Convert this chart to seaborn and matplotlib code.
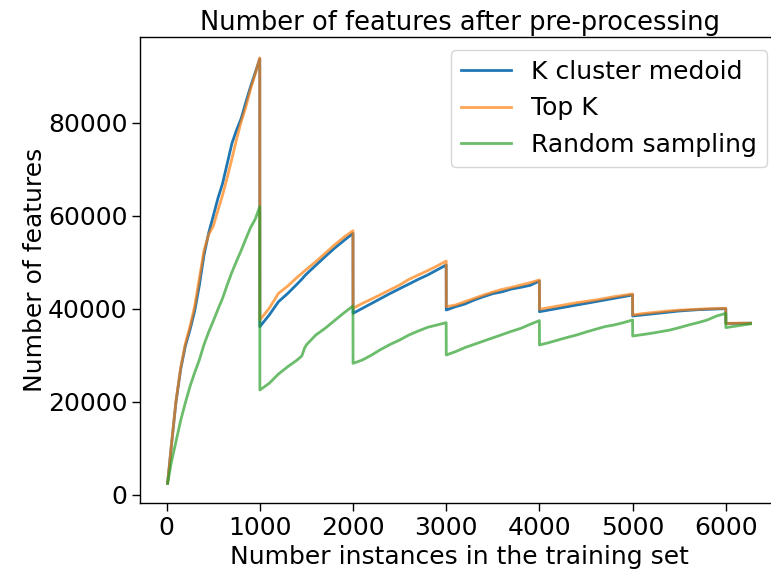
import numpy as np
import pandas as pd
import matplotlib
matplotlib.use("Agg")
import matplotlib.pyplot as plt
import seaborn as sns

# ---- data ----
instances = [10, 50, 100, 150, 200, 250, 300, 350, 400, 450, 500, 550, 600, 650, 700, 750, 800, 850, 900, 950, 999,
             1000, 1100, 1200, 1300, 1400, 1450, 1480, 1500, 1600, 1700, 1800, 1900, 1999,
             2000, 2100, 2200, 2300, 2400, 2500, 2600, 2700, 2800, 2900, 2999,
             3000, 3100, 3200, 3300, 3400, 3500, 3600, 3700, 3800, 3900, 3999,
             4000, 4100, 4200, 4300, 4400, 4500, 4600, 4700, 4800, 4900, 4999,
             5000, 5100, 5200, 5300, 5400, 5500, 5600, 5700, 5800, 5900, 5999,
             6000, 6100, 6265]

k_cluster_medoid = [2500, 10500, 20000, 27000, 32000, 35500, 39500, 45000, 51500, 56300, 60000, 63800, 67000, 71300, 75600, 78500, 81000, 84500, 87800, 90800, 93800,
                    36200, 38700, 41570, 43360, 45370, 46400, 47100, 47520, 49390, 51250, 53050, 54690, 56270,
                    39070, 40140, 41210, 42290, 43360, 44370, 45370, 46380, 47310, 48390, 49460,
                    39780, 40500, 41070, 41930, 42650, 43300, 43700, 44300, 44660, 45090, 46000,
                    39420, 39780, 40140, 40500, 40860, 41210, 41570, 41930, 42290, 42650, 43010,
                    38490, 38710, 38920, 39140, 39350, 39570, 39710, 39850, 39920, 40000, 40070,
                    36900, 36900, 36950]

top_k = [2500, 10500, 20200, 27300, 32500, 36200, 40500, 46500, 52500, 56000, 57800, 61200, 64500, 68300, 72300, 76500, 80300, 83500, 87300, 90500, 94000,
         37630, 40140, 43370, 44950, 46810, 47650, 48200, 48530, 50180, 51970, 53760, 55410, 56840,
         40140, 41210, 42150, 43150, 44160, 45160, 46380, 47310, 48240, 49240, 50300,
         40500, 40860, 41570, 42290, 43000, 43650, 44220, 44650, 45160, 45660, 46240,
         39930, 40290, 40640, 41000, 41360, 41640, 41930, 42290, 42650, 42940, 43230,
         38710, 39000, 39200, 39400, 39600, 39750, 39850, 39950, 40050, 40100, 40150,
         36900, 36950, 36950]

random_sampling = [2500, 7000, 11500, 16000, 19800, 23300, 26300, 29000, 32300, 35000, 37400, 39900, 42300, 45200, 47900, 50300, 52600, 55100, 57500, 59300, 62000,
                   22580, 24010, 26020, 27600, 29030, 29900, 31600, 32300, 34400, 35840, 37490, 39130, 40640,
                   28310, 29030, 30110, 31330, 32400, 33330, 34410, 35270, 36060, 36560, 37060,
                   30110, 30830, 31700, 32400, 33100, 33800, 34500, 35200, 35840, 36700, 37500,
                   32260, 32760, 33330, 33900, 34410, 35050, 35630, 36200, 36560, 37060, 37630,
                   34190, 34480, 34770, 35120, 35480, 35990, 36560, 37060, 37630, 38490, 39060,
                   36000, 36300, 36800]

series_names = ["K cluster medoid", "Top K", "Random sampling"]
series_values = [k_cluster_medoid, top_k, random_sampling]
series_colors = ["#1f77b4", "#ff7f0e", "#2ca02c"]
series_alpha = [1.0, 0.7, 0.7]

W, H, DPI = 771, 576, 100
fig = plt.figure(figsize=(W / DPI, H / DPI), dpi=DPI)
ax = fig.add_axes([140 / W, (H - 503.3) / H, (779 - 140) / W, (503.3 - 37.3) / H])

for name, vals, col, a in zip(series_names, series_values, series_colors, series_alpha):
    df = pd.DataFrame({"x": instances, "y": vals})
    sns.lineplot(data=df, x="x", y="y", ax=ax, color=col, alpha=a, lw=2.0,
                 label=name, estimator=None, sort=False)

ax.set_xlim(-286, 6570)
ax.set_ylim(-1790, 98430)
ax.set_xticks([0, 1000, 2000, 3000, 4000, 5000, 6000])
ax.set_yticks([0, 20000, 40000, 60000, 80000])

fs = 18
ax.tick_params(labelsize=fs, length=5.5, width=1.0)
ax.set_xlabel("Number instances in the training set", fontsize=fs)
ax.set_ylabel("Number of features", fontsize=fs, labelpad=1)
ax.set_title("Number of features after pre-processing", fontsize=18.5, pad=5)
for s in ax.spines.values():
    s.set_linewidth(1.0)
ax.spines["right"].set_visible(False)

leg = ax.legend(loc="upper right", fontsize=fs, handlelength=2.0)
for line in leg.get_lines():
    line.set_linewidth(2.0)

fig.savefig("out.png", dpi=DPI)
